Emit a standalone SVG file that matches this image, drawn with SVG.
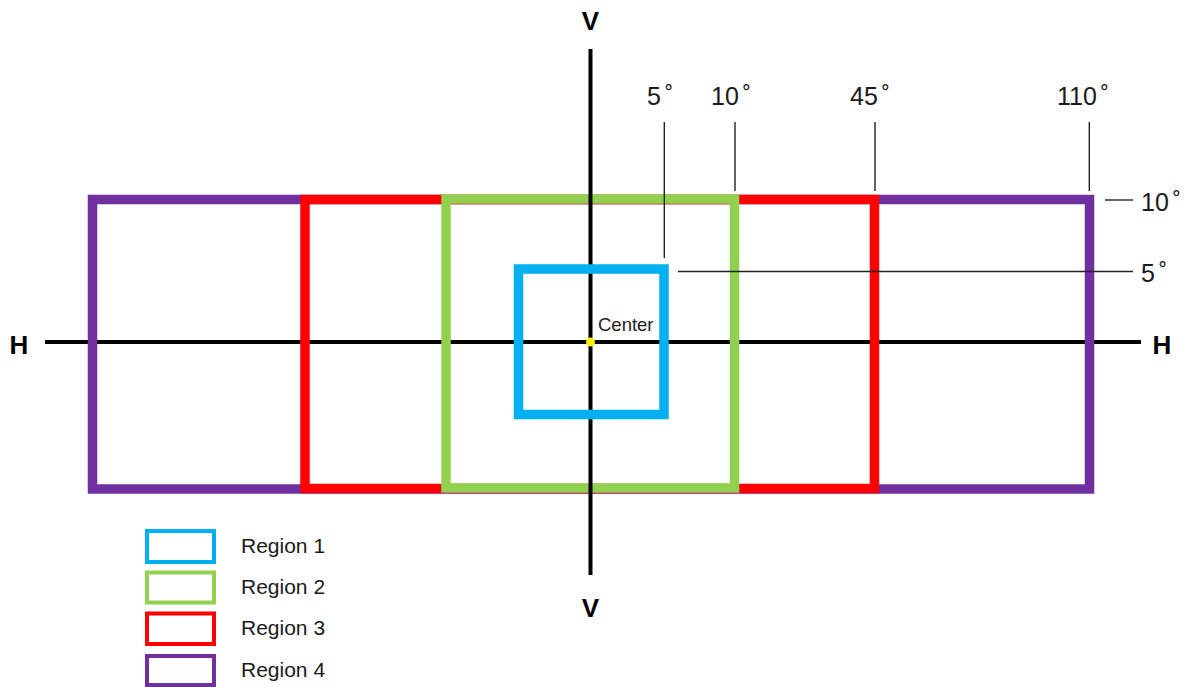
<svg xmlns="http://www.w3.org/2000/svg" width="1188" height="687" viewBox="0 0 1188 687">
<style>
.r{fill:none;stroke-width:9.5}
.lg{fill:none;stroke-width:4}
.ax{stroke:#000;stroke-width:4;fill:none}
.tk{stroke:#222;stroke-width:1.4;fill:none}
.deg{font-family:"Liberation Sans",Arial,sans-serif;font-size:25px;fill:#1a1a1a}
.hv{font-family:"Liberation Sans",Arial,sans-serif;font-size:26px;font-weight:bold;fill:#000}
.lbl{font-family:"Liberation Sans",Arial,sans-serif;font-size:21px;fill:#1a1a1a}
.c1{stroke:#00B0F0}.c2{stroke:#92D050}.c3{stroke:#FF0000}.c4{stroke:#7030A0}
</style>
<rect width="1188" height="687" fill="#fff"/>
<g id="connectors">
<line class="ax" x1="45" y1="342" x2="1141" y2="342"/>
</g>
<g id="region4"><rect class="r c4" x="92.5" y="199.5" width="997" height="289.5"/></g>
<g id="region3"><rect class="r c3" x="305" y="199.5" width="569.5" height="289"/></g>
<g id="region2"><rect class="r c2" x="446" y="199" width="288.5" height="289"/></g>
<g id="axisV"><line class="ax" x1="590.5" y1="49" x2="590.5" y2="575"/></g>
<g id="region1"><rect class="r c1" x="518.5" y="269" width="145.5" height="145.5"/></g>
<g id="center">
<circle cx="590.5" cy="342" r="4.5" fill="#FFF200"/>
<text x="598" y="331" font-family="'Liberation Sans',Arial,sans-serif" font-size="18.5" fill="#222">Center</text>
</g>
<g id="axis-labels">
<text class="hv" x="590.5" y="30" text-anchor="middle">V</text>
<text class="hv" x="590.5" y="617" text-anchor="middle">V</text>
<text class="hv" x="19" y="354" text-anchor="middle">H</text>
<text class="hv" x="1162" y="354" text-anchor="middle">H</text>
</g>
<g id="ticks">
<line class="tk" x1="664.3" y1="122" x2="664.3" y2="258"/>
<line class="tk" x1="735" y1="122" x2="735" y2="191"/>
<line class="tk" x1="875" y1="122" x2="875" y2="191"/>
<line class="tk" x1="1089.3" y1="122" x2="1089.3" y2="191"/>
<line class="tk" x1="1105" y1="200" x2="1133" y2="200"/>
<line class="tk" x1="678" y1="271.5" x2="1133" y2="271.5"/>
</g>
<g id="degree-labels">
<text class="deg" x="647" y="105">5<tspan dx="4">˚</tspan></text>
<text class="deg" x="711" y="105">10<tspan dx="4">˚</tspan></text>
<text class="deg" x="850" y="105">45<tspan dx="4">˚</tspan></text>
<text class="deg" x="1057" y="105">110<tspan dx="4">˚</tspan></text>
<text class="deg" x="1141" y="211">10<tspan dx="4">˚</tspan></text>
<text class="deg" x="1141" y="282">5<tspan dx="4">˚</tspan></text>
</g>
<g id="legend">
<rect class="lg c1" x="147" y="531" width="67" height="31"/>
<rect class="lg c2" x="147" y="572.5" width="67" height="30"/>
<rect class="lg c3" x="147" y="613.5" width="67" height="30.5"/>
<rect class="lg c4" x="147" y="656" width="67" height="29"/>
<text class="lbl" x="241" y="553">Region 1</text>
<text class="lbl" x="241" y="594">Region 2</text>
<text class="lbl" x="241" y="635">Region 3</text>
<text class="lbl" x="241" y="677">Region 4</text>
</g>
</svg>
